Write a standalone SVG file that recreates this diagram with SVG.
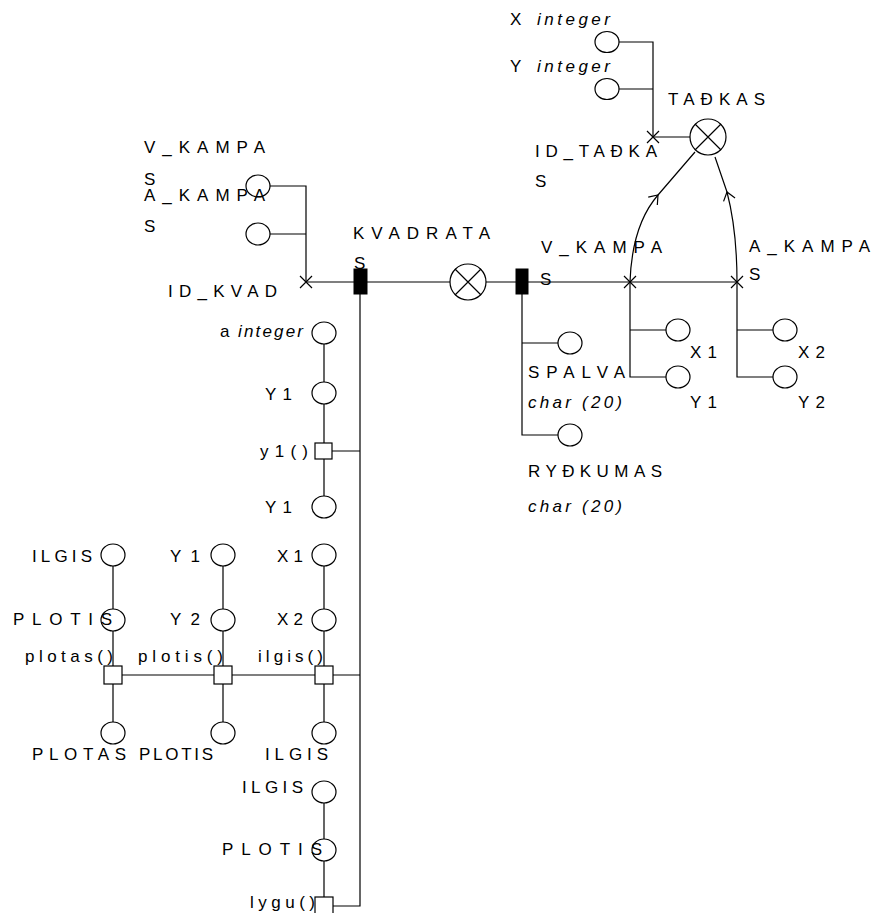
<svg xmlns="http://www.w3.org/2000/svg" width="872" height="913" viewBox="0 0 872 913">
<style>
.ln{stroke:#000;stroke-width:1.2;fill:none}
.at{fill:#fff;stroke:#000;stroke-width:1.2}
.bx{fill:#000;stroke:#000;stroke-width:1}
text{font-family:"Liberation Sans",Arial,sans-serif;font-size:17px;fill:#000}
.it{font-style:italic}
</style>
<defs>
<marker id="chev" markerUnits="userSpaceOnUse" markerWidth="20" markerHeight="20" refX="0" refY="0" orient="auto" overflow="visible">
<path d="M-8,-6 L0,0 L-8,6" fill="none" stroke="#000" stroke-width="1.2"/>
</marker>
<path id="xm" d="M-6,-6 L6,6 M-6,6 L6,-6" fill="none" stroke="#000" stroke-width="1.2"/>
</defs>
<rect width="872" height="913" fill="#fff"/>

<g id="connectors" class="ln">
<path d="M306,282 H737"/>
<path d="M270,186 H306 V282 M270,234 H306"/>
<path d="M619,42 H653 V137 H690 M619,89 H653"/>
<path d="M630,282 Q632,225 658,195 L695,152" marker-mid="url(#chev)"/>
<path d="M737,282 C737,240 733,215 727,192 L715,157" marker-mid="url(#chev)"/>
<path d="M522,294 V435 H558 M522,343 H558"/>
<path d="M630,282 V377 H666 M630,330 H666"/>
<path d="M737,282 V377 H773 M737,330 H773"/>
<path d="M360,294 V906 H333 M332,451 H360"/>
<path d="M324,344 V382 M324,404 V443 M324,459 V496"/>
<path d="M324,566 V609 M324,631 V666 M324,684 V722"/>
<path d="M324,803 V839 M324,861 V897"/>
<path d="M113,566 V609 M113,631 V666 M113,684 V722"/>
<path d="M223,566 V609 M223,631 V666 M223,684 V722"/>
<path d="M122,675 H214 M232,675 H315 M333,675 H360"/>
</g>

<g id="TADKAS">
<circle cx="708" cy="137" r="18" class="at"/>
<path d="M695,124 L721,150 M695,150 L721,124" class="ln"/>
<text x="668" y="105" textLength="97" lengthAdjust="spacing">TAĐKAS</text>
</g>
<g id="TADKAS_X"><ellipse cx="607" cy="42" rx="12" ry="10.5" class="at"/><text x="510" y="25">X</text><text x="537" y="25" class="it" textLength="73" lengthAdjust="spacing">integer</text></g>
<g id="TADKAS_Y"><ellipse cx="607" cy="89" rx="12" ry="10.5" class="at"/><text x="510" y="72">Y</text><text x="537" y="72" class="it" textLength="73" lengthAdjust="spacing">integer</text></g>
<g id="ID_TADKAS"><use href="#xm" x="653" y="137"/><text x="535" y="157" textLength="122" lengthAdjust="spacing">ID_TAĐKA</text><text x="535" y="187">S</text></g>

<g id="V_KAMPAS_L"><ellipse cx="258" cy="186" rx="12" ry="11" class="at"/><text x="144" y="153" textLength="121" lengthAdjust="spacing">V_KAMPA</text><text x="144" y="185">S</text></g>
<g id="A_KAMPAS_L"><ellipse cx="258" cy="234" rx="12" ry="11" class="at"/><text x="144" y="201" textLength="121" lengthAdjust="spacing">A_KAMPA</text><text x="144" y="232">S</text></g>
<g id="ID_KVAD"><use href="#xm" x="306" y="282"/><text x="168" y="297" textLength="109" lengthAdjust="spacing">ID_KVAD</text></g>

<g id="KVADRATAS">
<rect x="354" y="269" width="13" height="25" class="bx"/>
<text x="353" y="239" textLength="137" lengthAdjust="spacing">KVADRATA</text>
<text x="354" y="269">S</text>
</g>
<g id="REL">
<circle cx="468" cy="282" r="18" class="at"/>
<path d="M455,269 L481,295 M455,295 L481,269" class="ln"/>
</g>
<g id="KVADRATAS2">
<rect x="516" y="269" width="12" height="25" class="bx"/>
</g>
<g id="V_KAMPAS_R"><use href="#xm" x="630" y="282"/><text x="541" y="253" textLength="121" lengthAdjust="spacing">V_KAMPA</text><text x="540" y="285">S</text></g>
<g id="A_KAMPAS_R"><use href="#xm" x="737" y="282"/><text x="749" y="252" textLength="121" lengthAdjust="spacing">A_KAMPA</text><text x="749" y="280">S</text></g>
<g id="X1r"><ellipse cx="678" cy="330" rx="12" ry="11" class="at"/><text x="690" y="358" textLength="27" lengthAdjust="spacing">X1</text></g>
<g id="Y1r"><ellipse cx="678" cy="377" rx="12" ry="11" class="at"/><text x="690" y="408" textLength="27" lengthAdjust="spacing">Y1</text></g>
<g id="X2r"><ellipse cx="785" cy="330" rx="12" ry="11" class="at"/><text x="798" y="358" textLength="27" lengthAdjust="spacing">X2</text></g>
<g id="Y2r"><ellipse cx="785" cy="377" rx="12" ry="11" class="at"/><text x="798" y="408" textLength="27" lengthAdjust="spacing">Y2</text></g>
<g id="SPALVA"><ellipse cx="570" cy="343" rx="12" ry="11" class="at"/><text x="528" y="378" textLength="97" lengthAdjust="spacing">SPALVA</text><text x="528" y="408" class="it" textLength="94" lengthAdjust="spacing">char (20)</text></g>
<g id="RYDKUMAS"><ellipse cx="570" cy="435" rx="12" ry="11" class="at"/><text x="528" y="477" textLength="134" lengthAdjust="spacing">RYĐKUMAS</text><text x="528" y="512" class="it" textLength="94" lengthAdjust="spacing">char (20)</text></g>

<g id="a_int"><ellipse cx="324" cy="333" rx="12" ry="11" class="at"/><text x="220" y="337">a</text><text x="238" y="337" class="it" textLength="65" lengthAdjust="spacing">integer</text></g>
<g id="Y1a"><ellipse cx="324" cy="393" rx="12" ry="11" class="at"/><text x="265" y="400" textLength="27" lengthAdjust="spacing">Y1</text></g>
<g id="y1m"><rect x="315" y="443" width="17" height="16" class="at"/><text x="260" y="457" textLength="48" lengthAdjust="spacing">y1()</text></g>
<g id="Y1b"><ellipse cx="324" cy="507" rx="12" ry="11" class="at"/><text x="265" y="513" textLength="27" lengthAdjust="spacing">Y1</text></g>

<g id="ILGIS_a"><ellipse cx="113" cy="555" rx="12" ry="11" class="at"/><text x="32" y="562" textLength="60" lengthAdjust="spacing">ILGIS</text></g>
<g id="PLOTIS_a"><ellipse cx="113" cy="620" rx="12" ry="11" class="at"/><text x="13" y="625" textLength="99" lengthAdjust="spacing">PLOTIS</text></g>
<g id="plotas_m"><rect x="104" y="666" width="18" height="18" class="at"/><text x="25" y="662" textLength="88" lengthAdjust="spacing">plotas()</text></g>
<g id="PLOTAS"><ellipse cx="113" cy="733" rx="12" ry="11" class="at"/><text x="32" y="760" textLength="94" lengthAdjust="spacing">PLOTAS</text></g>

<g id="Y1c"><ellipse cx="223" cy="555" rx="12" ry="11" class="at"/><text x="170" y="562" textLength="30" lengthAdjust="spacing">Y1</text></g>
<g id="Y2c"><ellipse cx="223" cy="620" rx="12" ry="11" class="at"/><text x="170" y="625" textLength="30" lengthAdjust="spacing">Y2</text></g>
<g id="plotis_m"><rect x="214" y="666" width="18" height="18" class="at"/><text x="138" y="662" textLength="85" lengthAdjust="spacing">plotis()</text></g>
<g id="PLOTIS_b"><ellipse cx="223" cy="733" rx="12" ry="11" class="at"/><text x="139" y="760" textLength="74" lengthAdjust="spacing">PLOTIS</text></g>

<g id="X1c"><ellipse cx="324" cy="555" rx="12" ry="11" class="at"/><text x="277" y="562" textLength="26" lengthAdjust="spacing">X1</text></g>
<g id="X2c"><ellipse cx="324" cy="620" rx="12" ry="11" class="at"/><text x="277" y="625" textLength="26" lengthAdjust="spacing">X2</text></g>
<g id="ilgis_m"><rect x="315" y="666" width="18" height="18" class="at"/><text x="258" y="662" textLength="65" lengthAdjust="spacing">ilgis()</text></g>
<g id="ILGIS_c"><ellipse cx="324" cy="733" rx="12" ry="11" class="at"/><text x="265" y="760" textLength="63" lengthAdjust="spacing">ILGIS</text></g>

<g id="ILGIS_d"><ellipse cx="324" cy="792" rx="12" ry="11" class="at"/><text x="242" y="793" textLength="61" lengthAdjust="spacing">ILGIS</text></g>
<g id="PLOTIS_d"><ellipse cx="324" cy="850" rx="12" ry="11" class="at"/><text x="222" y="855" textLength="100" lengthAdjust="spacing">PLOTIS</text></g>
<g id="lygu_m"><rect x="315" y="897" width="18" height="18" class="at"/><text x="250" y="908" textLength="65" lengthAdjust="spacing">lygu()</text></g>
</svg>
